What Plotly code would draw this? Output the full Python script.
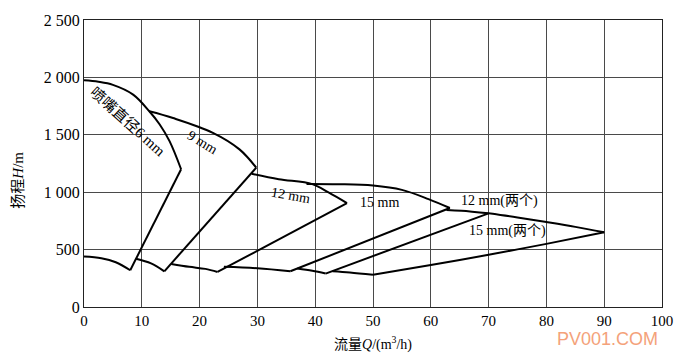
import plotly.graph_objects as go

# Each nozzle region: top curve (left -> right vertex), bottom curve (bottom vertex -> left);
# the right side is a straight line from the top vertex to the bottom vertex
# (flow Q in m3/h, head H in m)
q_6mm_top = [0, 2.5, 5, 8.5, 11.3, 13.1, 14.8, 16.8]
h_6mm_top = [1975, 1962, 1935, 1850, 1705, 1590, 1445, 1200]
q_6mm_bot = [8.0, 5.5, 3, 0]
h_6mm_bot = [320, 390, 425, 440]

q_9mm_top = [11.3, 15.4, 22.3, 26.9, 29.8]
h_9mm_top = [1705, 1646, 1517, 1373, 1214]
q_9mm_bot = [13.9, 11.6, 9.0]
h_9mm_bot = [311, 380, 420]

q_12mm_top = [29.0, 33.7, 39.5, 42.3, 45.5]
h_12mm_top = [1160, 1113, 1070, 998, 905]
q_12mm_bot = [23.1, 21.0, 18.2, 15.1]
h_12mm_bot = [305, 332, 350, 375]

q_15mm_top = [38.5, 44, 50, 55, 59.6, 63.3]
h_15mm_top = [1072, 1070, 1058, 1020, 940, 862]
q_15mm_bot = [35.7, 30, 24.2]
h_15mm_bot = [311, 337, 350]

q_12mm2_top = [62.7, 65.3, 70]
h_12mm2_top = [845, 838, 816]
q_12mm2_bot = [41.8, 39.5, 36.9]
h_12mm2_bot = [291, 315, 335]

q_15mm2_top = [70, 75, 80, 85, 90]
h_15mm2_top = [816, 780, 740, 698, 651]
q_15mm2_side = [90, 80, 70, 60, 50]
h_15mm2_side = [651, 550, 455, 365, 280]
q_15mm2_bot = [50, 46, 43]
h_15mm2_bot = [280, 300, 311]

regions = [
    (q_6mm_top, h_6mm_top, None, None, q_6mm_bot, h_6mm_bot),
    (q_9mm_top, h_9mm_top, None, None, q_9mm_bot, h_9mm_bot),
    (q_12mm_top, h_12mm_top, None, None, q_12mm_bot, h_12mm_bot),
    (q_15mm_top, h_15mm_top, None, None, q_15mm_bot, h_15mm_bot),
    (q_12mm2_top, h_12mm2_top, None, None, q_12mm2_bot, h_12mm2_bot),
    (q_15mm2_top, h_15mm2_top, q_15mm2_side, h_15mm2_side, q_15mm2_bot, h_15mm2_bot),
]

# Region labels: text, Q, H, angle, size
label_texts = ["喷嘴直径6 mm", "9 mm", "12 mm", "15 mm", "12 mm(两个)", "15 mm(两个)"]
label_q = [7.6, 20.5, 35.7, 51.2, 71.9, 73.3]
label_h = [1610, 1430, 969, 911, 926, 666]
label_angle = [42, 31, 10, 0, 0, 0]
label_size = [15, 14, 14, 14, 14, 14]

x_ticks = [0, 10, 20, 30, 40, 50, 60, 70, 80, 90, 100]
y_ticks = [0, 500, 1000, 1500, 2000, 2500]
y_tick_text = ["0", "500", "1 000", "1 500", "2 000", "2 500"]

SERIF = "Liberation Serif, Times New Roman, Noto Sans CJK SC, serif"
LINE = dict(color="black", width=2)

fig = go.Figure()
for qt, ht, qs, hs, qb, hb in regions:
    fig.add_trace(go.Scatter(x=qt, y=ht, mode="lines", line=dict(LINE, shape="spline", smoothing=1.0),
                             hoverinfo="skip", showlegend=False))
    if qs is None:
        qs, hs = [qt[-1], qb[0]], [ht[-1], hb[0]]
        fig.add_trace(go.Scatter(x=qs, y=hs, mode="lines", line=LINE,
                                 hoverinfo="skip", showlegend=False))
    else:
        fig.add_trace(go.Scatter(x=qs, y=hs, mode="lines", line=dict(LINE, shape="spline", smoothing=0.8),
                                 hoverinfo="skip", showlegend=False))
    fig.add_trace(go.Scatter(x=qb, y=hb, mode="lines", line=dict(LINE, shape="spline", smoothing=1.0),
                             hoverinfo="skip", showlegend=False))

for t, xq, yh, a, s in zip(label_texts, label_q, label_h, label_angle, label_size):
    fig.add_annotation(x=xq, y=yh, text=t, textangle=a, showarrow=False,
                       font=dict(family=SERIF, size=s, color="black"))

# axis titles
fig.add_annotation(xref="paper", x=0, xshift=-76, y=1100, yref="y",
                   text="扬程<i>H</i>/m", textangle=-90, showarrow=False,
                   font=dict(family=SERIF, size=15, color="black"))
fig.add_annotation(x=50, xref="x", yref="paper", y=0, yshift=-36, yanchor="middle",
                   text="流量<i>Q</i>/(m<sup>3</sup>/h)", showarrow=False,
                   font=dict(family=SERIF, size=14, color="black"))
# watermark
fig.add_annotation(xref="paper", x=1, xshift=-2, yref="paper", y=0, yshift=-32,
                   xanchor="right", yanchor="middle", text="PV001.COM", showarrow=False,
                   font=dict(family="Liberation Sans, Arial, sans-serif", size=18,
                             color="#F4A27A"))

fig.update_xaxes(range=[0, 100], tickvals=x_ticks, ticks="",
                 showgrid=True, gridcolor="#4a4a4a", gridwidth=1,
                 showline=True, linecolor="#222", linewidth=1, mirror=True,
                 zeroline=False,
                 tickfont=dict(family=SERIF, size=15, color="black"))
fig.update_yaxes(range=[0, 2500], tickvals=y_ticks, ticktext=y_tick_text, ticks="",
                 showgrid=True, gridcolor="#4a4a4a", gridwidth=1,
                 showline=True, linecolor="#222", linewidth=1, mirror=True,
                 zeroline=False,
                 tickfont=dict(family=SERIF, size=16, color="black"))

fig.update_layout(width=685, height=362,
                  margin=dict(l=84, r=20, t=18, b=55),
                  paper_bgcolor="white", plot_bgcolor="white",
                  showlegend=False)

fig.write_html("out.html")
